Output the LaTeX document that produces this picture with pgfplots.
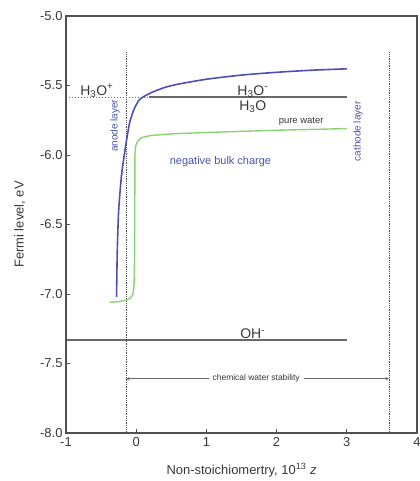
\documentclass[border=0pt]{standalone}
\usepackage{fontspec}
\setmainfont{Liberation Sans}
\usepackage{pgfplots}
\pgfplotsset{compat=1.18}
\usetikzlibrary{calc}
\definecolor{framegray}{RGB}{80,80,80}
\definecolor{linegray}{RGB}{105,105,105}
\definecolor{txtgray}{RGB}{55,55,55}
\definecolor{fermiblue}{RGB}{75,80,180}
\definecolor{fermigreen}{RGB}{140,210,115}

\begin{document}
\begin{tikzpicture}
\begin{axis}[
    name=ax,
    width=351bp, height=417bp, scale only axis,
    xmin=-1, xmax=4, ymin=-8, ymax=-5,
    xtick={-1,0,1,2,3,4},
    ytick={-8,-7.5,-7,-6.5,-6,-5.5,-5},
    yticklabel style={/pgf/number format/.cd,fixed,fixed zerofill,precision=1},
    /pgf/number format/assume math mode=true,
    xtick pos=bottom, ytick pos=left, tick align=inside,
    axis line style={framegray},
    tick style={framegray,line width=1pt},
    major tick length=4bp,
    tick label style={font=\fontsize{13}{15}\selectfont, text=txtgray},
    xticklabel style={yshift=-1bp},
    label style={font=\fontsize{13}{15}\selectfont, text=txtgray},
    xlabel={Non-stoichiomertry, 10\textsuperscript{13} \textit{z}},
    ylabel={Fermi level, eV},
    ylabel style={yshift=8bp},
    xlabel style={yshift=-10bp},
    clip=false,
  ]
  % reference levels
  \addplot[linegray, dotted, line width=1pt] coordinates {(-1,-5.583)(0.18,-5.583)};
  \addplot[linegray, line width=1.8pt] coordinates {(0.18,-5.583)(3,-5.583)};
  \addplot[linegray, line width=1.5pt] coordinates {(-1,-7.33)(3,-7.33)};
  % anode / cathode layers
  \addplot[black!70, densely dotted, line width=0.8pt] coordinates {(-0.145,-5.26)(-0.145,-8)};
  \addplot[black!70, densely dotted, line width=0.8pt] coordinates {(3.60,-5.26)(3.60,-8)};
  % Fermi level curves
  \addplot[fermiblue, line width=1.6pt, smooth, tension=0.4] coordinates {
    (-0.28,-7.02)(-0.27,-6.7)(-0.25,-6.4)(-0.21,-6.15)(-0.17,-6.0)
    (-0.13,-5.87)(-0.09,-5.76)(-0.03,-5.67)(0.05,-5.6)(0.2,-5.555)
    (0.4,-5.515)(0.6,-5.49)(1.0,-5.455)(1.5,-5.425)(2.0,-5.405)
    (2.5,-5.39)(3.0,-5.38)};
  \addplot[fermigreen, line width=1.4pt] coordinates {
    (-0.38,-7.06)(-0.25,-7.055)(-0.15,-7.045)(-0.08,-7.03)(-0.045,-7.0)
    (-0.03,-6.93)(-0.022,-6.7)(-0.02,-6.3)(-0.018,-6.0)(-0.01,-5.94)
    (0.02,-5.9)(0.08,-5.875)(0.2,-5.86)(0.5,-5.848)(1.0,-5.838)
    (2.0,-5.822)(3.0,-5.81)};
  % stability range
  \draw[<->, >=stealth, linegray, line width=0.6pt] (axis cs:-0.145,-7.61) -- (axis cs:3.60,-7.61)
    node[pos=0.495, fill=white, inner xsep=4pt, inner ysep=1pt, text=txtgray, font=\fontsize{8.5}{9}\selectfont] {chemical water stability};
  % labels
  \node[text=txtgray, font=\fontsize{14}{16}\selectfont, anchor=south] at (axis cs:-0.56,-5.61) {H\textsubscript{3}O\textsuperscript{+}};
  \node[text=txtgray, font=\fontsize{14}{16}\selectfont, anchor=south] at (axis cs:1.66,-5.61) {H\textsubscript{3}O\textsuperscript{-}};
  \node[text=txtgray, font=\fontsize{14}{16}\selectfont, anchor=north] at (axis cs:1.66,-5.585) {H\textsubscript{3}O};
  \node[text=txtgray, font=\fontsize{14}{16}\selectfont, anchor=south] at (axis cs:1.66,-7.35) {OH\textsuperscript{-}};
  \node[text=txtgray, font=\fontsize{9.5}{10}\selectfont] at (axis cs:2.35,-5.76) {pure water};
  \node[text=fermiblue, font=\fontsize{11}{12}\selectfont] at (axis cs:1.2,-6.05) {negative bulk charge};
  \node[text=fermiblue, font=\fontsize{10}{11}\selectfont, rotate=90] at (axis cs:-0.30,-5.79) {anode layer};
  \node[text=fermiblue, font=\fontsize{10}{11}\selectfont, rotate=90] at (axis cs:3.16,-5.83) {cathode layer};
\end{axis}
\draw[framegray, line width=2.2pt] (ax.south west) rectangle (ax.north east);
\pgfresetboundingbox
\path ($(ax.south west)+(-66bp,-48bp)$) rectangle ($(ax.north east)+(3bp,16bp)$);
\end{tikzpicture}
\end{document}
